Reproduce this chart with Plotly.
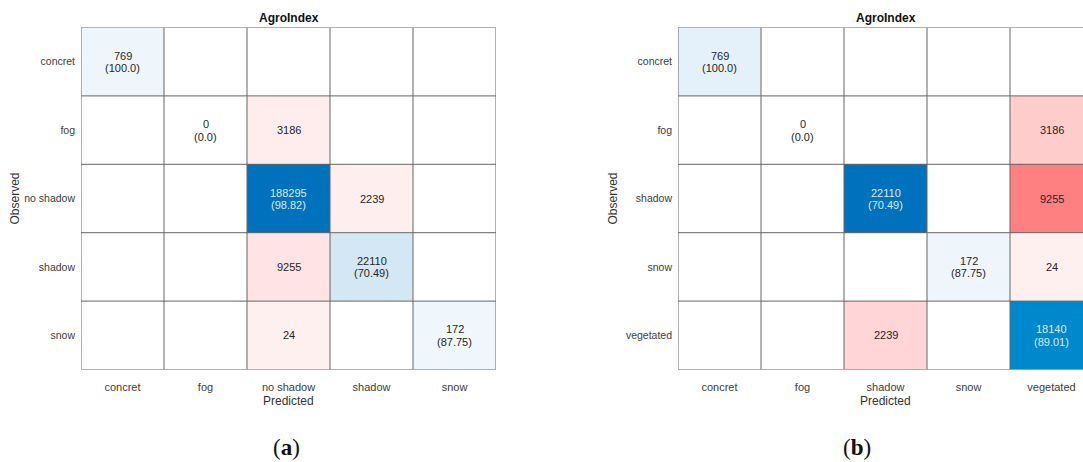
import plotly.graph_objects as go

# ---- data -------------------------------------------------------------
title = "AgroIndex"

labels_a = ["concret", "fog", "no shadow", "shadow", "snow"]
counts_a = [
    [769, None, None, None, None],
    [None, 0, 3186, None, None],
    [None, None, 188295, 2239, None],
    [None, None, 9255, 22110, None],
    [None, None, 24, None, 172],
]
pct_a = [100.0, 0.0, 98.82, 70.49, 87.75]

labels_b = ["concret", "fog", "shadow", "snow", "vegetated"]
counts_b = [
    [769, None, None, None, None],
    [None, 0, None, None, 3186],
    [None, None, 22110, None, 9255],
    [None, None, None, 172, 24],
    [None, None, 2239, None, 18140],
]
pct_b = [100.0, 0.0, 70.49, 87.75, 89.01]

# ---- geometry (pixels) ---------------------------------------------------
W, H = 1083, 462
TOP, BOT = 27.5, 369.5
CELL = 83.0
PANELS = [
    dict(left=81.0, labels=labels_a, counts=counts_a, pct=pct_a, cap="a",
         cap_x=286, obs_x=15),
    dict(left=678.0, labels=labels_b, counts=counts_b, pct=pct_b, cap="b",
         cap_x=857, obs_x=613),
]

FONT = "Liberation Sans, Arial, sans-serif"
GRID = "#666666"
TXT = 11

# colour ramps: diagonal (blue) and off-diagonal (red)
diag_scale_a = [[0, "#ffffff"], [0.0005, "#f0f7fc"], [0.004, "#eef6fb"],
                [0.117, "#d3e8f4"], [1, "#0072bd"]]
off_scale_a = [[0, "#ffffff"], [0.002, "#fff0f0"], [0.24, "#ffeeee"],
               [0.344, "#ffedee"], [1, "#ffe3e5"]]
diag_scale_b = [[0, "#ffffff"], [0.004, "#f0f7fc"], [0.0078, "#eef6fc"],
                [0.0348, "#e5f1fa"], [0.82, "#0088cc"], [1, "#0072bd"]]
off_scale_b = [[0, "#ffffff"], [0.0026, "#fff0f0"], [0.242, "#ffd5d7"],
               [0.344, "#ffcccc"], [1, "#ff8080"]]
scales = [(diag_scale_a, off_scale_a), (diag_scale_b, off_scale_b)]

fig = go.Figure()
shapes, annotations = [], []

y0p = 1 - BOT / H
y1p = 1 - TOP / H

for k, p in enumerate(PANELS):
    n = len(p["labels"])
    idx = list(range(n))
    ax = "" if k == 0 else str(k + 1)
    xref, yref = "x" + ax, "y" + ax

    right_px = p["left"] + n * CELL
    dom_right = min(right_px, W) / W
    xr_hi = -0.5 + (min(right_px, W) - p["left"]) / CELL

    diag = [[p["counts"][i][j] if i == j else None for j in idx] for i in idx]
    off = [[p["counts"][i][j] if i != j else None for j in idx] for i in idx]
    dmax = max(v for row in diag for v in row if v is not None)
    omax = max(v for row in off for v in row if v is not None)

    ds, os_ = scales[k]
    fig.add_trace(go.Heatmap(z=diag, x=idx, y=idx, zmin=0, zmax=dmax,
                             colorscale=ds, showscale=False, hoverinfo="skip",
                             xaxis=xref, yaxis=yref))
    fig.add_trace(go.Heatmap(z=off, x=idx, y=idx, zmin=0, zmax=omax,
                             colorscale=os_, showscale=False, hoverinfo="skip",
                             xaxis=xref, yaxis=yref))

    fig.layout["xaxis" + ax] = dict(
        domain=[p["left"] / W, dom_right], range=[-0.5, xr_hi],
        anchor=yref, tickvals=idx, ticktext=p["labels"], ticks="",
        showgrid=False, zeroline=False, showline=False,
        tickfont=dict(family=FONT, size=TXT, color="#404040"),
        ticklabelstandoff=9, fixedrange=True,
    )
    fig.layout["yaxis" + ax] = dict(
        domain=[y0p, y1p], range=[n - 0.5, -0.5], anchor=xref,
        tickvals=idx, ticktext=p["labels"], ticks="",
        showgrid=False, zeroline=False, showline=False,
        tickfont=dict(family=FONT, size=10.5, color="#404040"),
        ticklabelstandoff=5, fixedrange=True,
    )

    # cell borders
    for b in range(n + 1):
        shapes.append(dict(type="line", xref=xref, yref=yref, x0=b - 0.5,
                           x1=b - 0.5, y0=-0.5, y1=n - 0.5,
                           line=dict(color=GRID, width=1), layer="above"))
        shapes.append(dict(type="line", xref=xref, yref=yref, x0=-0.5,
                           x1=n - 0.5, y0=b - 0.5, y1=b - 0.5,
                           line=dict(color=GRID, width=1), layer="above"))

    # cell texts
    for i in idx:
        for j in idx:
            v = p["counts"][i][j]
            if v is None:
                continue
            if i == j:
                dark = v > 0.5 * dmax
                col = "#dbe9f6" if dark else "#262626"
                annotations.append(dict(x=j, y=i, xref=xref, yref=yref,
                                        text=str(v), showarrow=False, yshift=6,
                                        font=dict(family=FONT, size=TXT, color=col)))
                annotations.append(dict(x=j, y=i, xref=xref, yref=yref,
                                        text="(%s)" % p["pct"][i], showarrow=False,
                                        yshift=-6.5,
                                        font=dict(family=FONT, size=TXT, color=col)))
            else:
                annotations.append(dict(x=j, y=i, xref=xref, yref=yref,
                                        text=str(v), showarrow=False,
                                        font=dict(family=FONT, size=TXT, color="#262626")))

    cx = (p["left"] + right_px) / 2 / W
    # title
    annotations.append(dict(x=cx, y=1 - 18 / H, xref="paper", yref="paper",
                            text="<b>%s</b>" % title, showarrow=False,
                            xanchor="center", yanchor="middle",
                            font=dict(family=FONT, size=12, color="#111111")))
    # axis titles
    annotations.append(dict(x=cx, y=1 - 401 / H, xref="paper", yref="paper",
                            text="Predicted", showarrow=False,
                            xanchor="center", yanchor="middle",
                            font=dict(family=FONT, size=12, color="#333333")))
    annotations.append(dict(x=p["obs_x"] / W, y=1 - (TOP + BOT) / 2 / H,
                            xref="paper", yref="paper", text="Observed",
                            textangle=-90, showarrow=False,
                            xanchor="center", yanchor="middle",
                            font=dict(family=FONT, size=12, color="#333333")))
    # panel caption
    annotations.append(dict(x=p["cap_x"] / W, y=1 - 447 / H, xref="paper",
                            yref="paper", text="(<b>%s</b>)" % p["cap"],
                            showarrow=False, xanchor="center", yanchor="middle",
                            font=dict(family="Liberation Serif, serif", size=23,
                                      color="#111111")))

fig.update_layout(
    width=W, height=H, margin=dict(l=0, r=0, t=0, b=0),
    paper_bgcolor="white", plot_bgcolor="white",
    shapes=shapes, annotations=annotations, showlegend=False,
)

fig.write_html("out.html")
